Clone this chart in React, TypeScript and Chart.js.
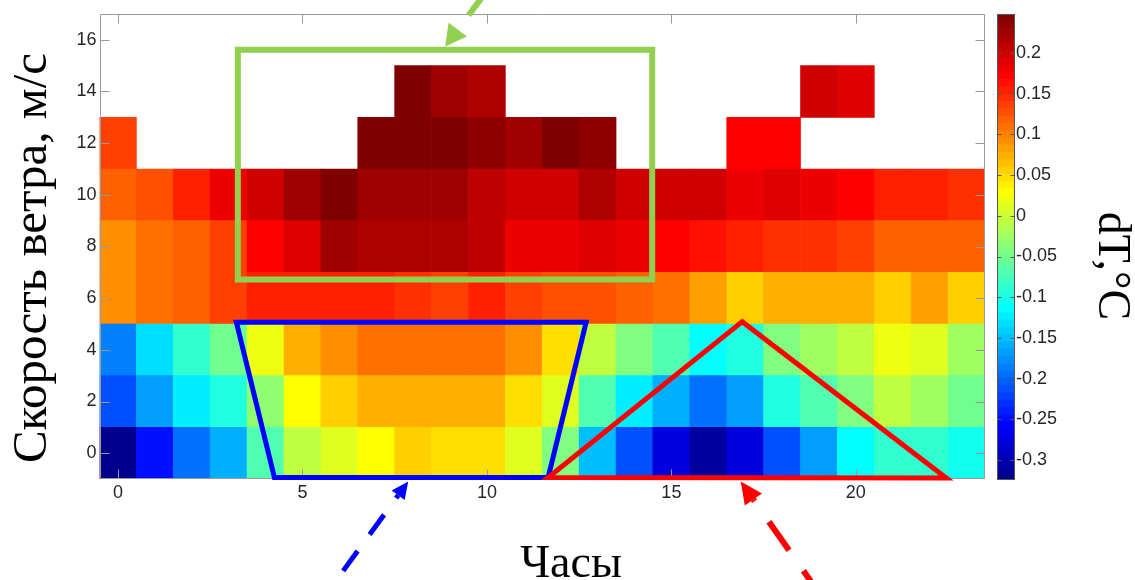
import React, { useEffect, useRef } from 'react';
import { Chart, registerables } from 'chart.js';

Chart.register(...registerables);

// ---------- data ----------
const hours = [0, 1, 2, 3, 4, 5, 6, 7, 8, 9, 10, 11, 12, 13, 14, 15, 16, 17, 18, 19, 20, 21, 22, 23];
const windSpeeds = [0, 2, 4, 6, 8, 10, 12, 14];

// dT (°C) per hour, one array per wind-speed bin (null = no data)
const dT_ws0 = [-0.319, -0.253, -0.196, -0.159, -0.067, -0.010, 0.007, 0.033, 0.053, 0.047, 0.045, 0.007, -0.039, -0.147, -0.216, -0.273, -0.314, -0.279, -0.210, -0.170, -0.113, -0.084, -0.084, -0.102];
const dT_ws2 = [-0.216, -0.165, -0.124, -0.096, -0.033, 0.033, 0.053, 0.076, 0.076, 0.076, 0.073, 0.047, 0.013, -0.067, -0.119, -0.159, -0.199, -0.170, -0.096, -0.067, -0.039, -0.010, -0.021, -0.056];
const dT_ws4 = [-0.182, -0.130, -0.084, -0.056, 0.019, 0.070, 0.088, 0.105, 0.110, 0.110, 0.105, 0.088, 0.045, -0.010, -0.039, -0.067, -0.110, -0.096, -0.039, -0.021, -0.010, 0.019, 0.007, -0.021];
const dT_ws6 = [0.093, 0.105, 0.122, 0.133, 0.156, 0.151, 0.156, 0.151, 0.145, 0.139, 0.151, 0.133, 0.128, 0.128, 0.122, 0.105, 0.082, 0.059, 0.070, 0.070, 0.076, 0.059, 0.082, 0.059];
const dT_ws8 = [0.093, 0.105, 0.122, 0.139, 0.176, 0.191, 0.225, 0.214, 0.219, 0.219, 0.208, 0.185, 0.185, 0.191, 0.185, 0.176, 0.162, 0.156, 0.145, 0.145, 0.139, 0.116, 0.122, 0.116];
const dT_ws10 = [0.122, 0.128, 0.151, 0.185, 0.202, 0.225, 0.248, 0.225, 0.225, 0.225, 0.208, 0.196, 0.202, 0.214, 0.202, 0.202, 0.202, 0.185, 0.191, 0.185, 0.168, 0.151, 0.151, 0.145];
const dT_ws12 = [0.133, null, null, null, null, null, null, 0.246, 0.246, 0.246, 0.231, 0.225, 0.242, 0.231, null, null, null, 0.176, 0.176, null, null, null, null, null];
const dT_ws14 = [null, null, null, null, null, null, null, null, 0.247, 0.227, 0.220, null, null, null, null, null, null, null, null, 0.195, 0.188, null, null, null];
const dTRows = [dT_ws0, dT_ws2, dT_ws4, dT_ws6, dT_ws8, dT_ws10, dT_ws12, dT_ws14];

const xTickValues = [0, 5, 10, 15, 20];
const yTickValues = [0, 2, 4, 6, 8, 10, 12, 14, 16];
const cbTickValues = [-0.3, -0.25, -0.2, -0.15, -0.1, -0.05, 0, 0.05, 0.1, 0.15, 0.2];
const colorMin = -0.3246;
const colorMax = 0.248;
const hourRange = [-0.5, 23.5];
const speedRange = [-1, 17];

// annotation shapes (in data units: hour, wind speed)
const greenRect = [[3.25, 15.62], [14.48, 15.62], [14.48, 6.72], [3.25, 6.72]];
const blueTrapezoid = [[3.21, 5.07], [12.69, 5.07], [11.66, -0.94], [4.24, -0.94]];
const redTriangle = [[16.92, 5.09], [22.45, -0.96], [11.66, -0.94]];
const arrowList = [
  { tail: [10.22, 18.32], tip: [8.87, 15.74], color: '#92D050', width: 6, headLen: 21, headW: 23, dash: 30, gap: 18, firstGap: 18 },
  { tail: [5.70, -5.35], tip: [7.867, -1.099], color: '#0000FF', width: 5, headLen: 17, headW: 16, dash: 24.5, gap: 20.5, firstGap: 24 },
  { tail: [18.97, -5.35], tip: [16.88, -1.099], color: '#FF0000', width: 6, headLen: 22, headW: 21, dash: 35, gap: 25, firstGap: 27 },
];

// ---------- MATLAB jet(64) ----------
function jetLevel(i: number): string {
  const R = i < 25 ? 0 : i <= 40 ? (i - 24) / 16 : i <= 56 ? 1 : (72 - i) / 16;
  const G = i < 9 ? 0 : i <= 24 ? (i - 8) / 16 : i <= 40 ? 1 : i <= 55 ? (56 - i) / 16 : 0;
  const B = i <= 8 ? (i + 8) / 16 : i <= 24 ? 1 : i <= 39 ? (40 - i) / 16 : 0;
  return `rgb(${Math.round(R * 255)},${Math.round(G * 255)},${Math.round(B * 255)})`;
}
function jetColor(v: number): string {
  let k = Math.floor(((v - colorMin) / (colorMax - colorMin)) * 64) + 1;
  k = Math.max(1, Math.min(64, k));
  return jetLevel(k);
}

const TICK_FONT = { family: '"Liberation Sans", Arial, sans-serif', size: 18 };
const TICK_COLOR = '#262626';
const FRAME_COLOR = '#9a9a9a';
const TITLE_FONT = '"Liberation Serif", "Times New Roman", serif';

const framePlugin = {
  id: 'frameTicks',
  afterDatasetsDraw(chart: any) {
    const { ctx, chartArea: a, scales } = chart;
    const x = scales.x, y = scales.y;
    ctx.save();
    ctx.strokeStyle = FRAME_COLOR;
    ctx.lineWidth = 1;
    ctx.beginPath();
    const L = Math.round(a.left) + 0.5, R = Math.round(a.right) - 0.5;
    const T = Math.round(a.top) + 0.5, B = Math.round(a.bottom) - 0.5;
    ctx.rect(L, T, R - L, B - T);
    xTickValues.forEach((v) => {
      const px = Math.round(x.getPixelForValue(v)) + 0.5;
      ctx.moveTo(px, B); ctx.lineTo(px, B - 9);
      ctx.moveTo(px, T); ctx.lineTo(px, T + 9);
    });
    yTickValues.forEach((v) => {
      const py = Math.round(y.getPixelForValue(v)) + 0.5;
      ctx.moveTo(L, py); ctx.lineTo(L + 9, py);
      ctx.moveTo(R, py); ctx.lineTo(R - 9, py);
    });
    ctx.stroke();
    ctx.restore();
  },
};

const titlesPlugin = {
  id: 'mainTitles',
  afterDraw(chart: any) {
    const { ctx } = chart;
    ctx.save();
    ctx.fillStyle = '#000';
    ctx.textAlign = 'center';
    ctx.textBaseline = 'alphabetic';
    ctx.font = `49px ${TITLE_FONT}`;
    ctx.translate(46, 258);
    ctx.rotate(-Math.PI / 2);
    ctx.fillText('Скорость ветра, м/с', 0, 0);
    ctx.restore();
    ctx.save();
    ctx.fillStyle = '#000';
    ctx.textAlign = 'center';
    ctx.textBaseline = 'alphabetic';
    ctx.font = `46px ${TITLE_FONT}`;
    ctx.fillText('Часы', 571, 577);
    ctx.restore();
  },
};

function toPx(chart: any, p: number[]) {
  return [chart.scales.x.getPixelForValue(p[0]), chart.scales.y.getPixelForValue(p[1])];
}

const annotationPlugin = {
  id: 'shapes',
  afterDraw(chart: any) {
    const { ctx } = chart;
    const poly = (pts: number[][], color: string, w: number) => {
      ctx.beginPath();
      pts.forEach((p, i) => {
        const [px, py] = toPx(chart, p);
        if (i === 0) ctx.moveTo(px, py); else ctx.lineTo(px, py);
      });
      ctx.closePath();
      ctx.strokeStyle = color;
      ctx.lineWidth = w;
      ctx.lineJoin = 'miter';
      ctx.stroke();
    };
    ctx.save();
    poly(greenRect, '#92D050', 6);
    poly(blueTrapezoid, '#0000FF', 5);
    poly(redTriangle, '#FF0000', 5);
    arrowList.forEach((a) => {
      const [tx, ty] = toPx(chart, a.tip);
      const [sx, sy] = toPx(chart, a.tail);
      const dx = tx - sx, dy = ty - sy;
      const len = Math.hypot(dx, dy);
      const ux = dx / len, uy = dy / len;
      const bx = tx - ux * a.headLen, by = ty - uy * a.headLen;
      ctx.strokeStyle = a.color;
      ctx.fillStyle = a.color;
      ctx.lineWidth = a.width;
      ctx.lineCap = 'butt';
      ctx.setLineDash([a.dash, a.gap]);
      ctx.lineDashOffset = a.dash + a.gap - a.firstGap;
      ctx.beginPath();
      ctx.moveTo(bx, by);
      ctx.lineTo(sx, sy);
      ctx.stroke();
      ctx.setLineDash([]);
      ctx.beginPath();
      ctx.moveTo(tx, ty);
      ctx.lineTo(bx - (uy * a.headW) / 2, by + (ux * a.headW) / 2);
      ctx.lineTo(bx + (uy * a.headW) / 2, by - (ux * a.headW) / 2);
      ctx.closePath();
      ctx.fill();
    });
    ctx.restore();
  },
};

const colorbarPlugin = {
  id: 'cbFrame',
  afterDraw(chart: any) {
    const { ctx, chartArea: a, scales } = chart;
    const y = scales.y;
    ctx.save();
    ctx.strokeStyle = '#555';
    ctx.lineWidth = 1;
    const L = Math.round(a.left) + 0.5, R = Math.round(a.right) - 0.5;
    const T = Math.round(a.top) + 0.5, B = Math.round(a.bottom) - 0.5;
    ctx.beginPath();
    ctx.rect(L, T, R - L, B - T);
    cbTickValues.forEach((v) => {
      const py = Math.round(y.getPixelForValue(v)) + 0.5;
      ctx.moveTo(L, py); ctx.lineTo(L + 4, py);
      ctx.moveTo(R, py); ctx.lineTo(R - 4, py);
    });
    ctx.stroke();
    ctx.restore();
    ctx.save();
    ctx.fillStyle = '#000';
    ctx.textAlign = 'center';
    ctx.textBaseline = 'alphabetic';
    ctx.font = `46px ${TITLE_FONT}`;
    ctx.translate(109, 266);
    ctx.rotate(Math.PI / 2);
    ctx.fillText('dT,°C', 0, 0);
    ctx.restore();
  },
};

export default function App() {
  const mainRef = useRef<HTMLCanvasElement>(null);
  const cbRef = useRef<HTMLCanvasElement>(null);

  useEffect(() => {
    const datasets = windSpeeds.map((ws, r) => ({
      label: `${ws} м/с`,
      data: hours
        .map((h, i) => (dTRows[r][i] == null ? null : { x: h, y: [ws - 1, ws + 1], v: dTRows[r][i] }))
        .filter((d) => d !== null) as any[],
      backgroundColor: (c: any) => (c.raw ? jetColor(c.raw.v) : 'transparent'),
      borderWidth: 0,
      barPercentage: 1,
      categoryPercentage: 1,
      grouped: false,
    }));

    const main = new Chart(mainRef.current!, {
      type: 'bar',
      data: { datasets },
      options: {
        responsive: false,
        animation: false,
        events: [],
        layout: { padding: { top: 14, right: 150, bottom: 0, left: 0 } },
        plugins: { legend: { display: false }, tooltip: { enabled: false }, title: { display: false } },
        scales: {
          x: {
            type: 'linear',
            min: hourRange[0],
            max: hourRange[1],
            offset: false,
            grid: { display: false, drawTicks: false },
            border: { display: false },
            ticks: { font: TICK_FONT, color: TICK_COLOR, padding: 3, maxRotation: 0, autoSkip: false },
            afterBuildTicks: (s: any) => { s.ticks = xTickValues.map((value) => ({ value })); },
            afterFit: (s: any) => { s.height = 101; },
          },
          y: {
            type: 'linear',
            min: speedRange[0],
            max: speedRange[1],
            grid: { display: false, drawTicks: false },
            border: { display: false },
            ticks: { font: TICK_FONT, color: TICK_COLOR, padding: 3, autoSkip: false },
            afterBuildTicks: (s: any) => { s.ticks = yTickValues.map((value) => ({ value })); },
            afterFit: (s: any) => { s.width = 99.5; },
          },
        },
      } as any,
      plugins: [framePlugin, titlesPlugin, annotationPlugin],
    });

    const step = (colorMax - colorMin) / 64;
    const cbDatasets = Array.from({ length: 64 }, (_, k) => ({
      data: [[colorMin + k * step, colorMin + (k + 1) * step]],
      backgroundColor: jetLevel(k + 1),
      borderWidth: 0,
      barPercentage: 1,
      categoryPercentage: 1,
      grouped: false,
    }));

    const cb = new Chart(cbRef.current!, {
      type: 'bar',
      data: { labels: ['dT'], datasets: cbDatasets as any },
      options: {
        responsive: false,
        animation: false,
        events: [],
        layout: { padding: { top: 14, right: 0, bottom: 100, left: 7 } },
        plugins: { legend: { display: false }, tooltip: { enabled: false } },
        scales: {
          x: { display: false },
          y: {
            type: 'linear',
            position: 'right',
            min: colorMin,
            max: colorMax,
            grid: { display: false, drawTicks: false },
            border: { display: false },
            ticks: {
              font: TICK_FONT,
              color: TICK_COLOR,
              padding: 1,
              autoSkip: false,
              callback: (v: any) => String(Number(Number(v).toFixed(2))),
            },
            afterBuildTicks: (s: any) => { s.ticks = cbTickValues.map((value) => ({ value })); },
            afterFit: (s: any) => { s.width = 120; },
          },
        },
      } as any,
      plugins: [colorbarPlugin],
    });

    return () => {
      main.destroy();
      cb.destroy();
    };
  }, []);

  return (
    <div style={{ position: 'fixed', left: 0, top: 0, width: 1135, height: 580, background: '#fff', overflow: 'hidden' }}>
      <canvas ref={mainRef} width={1135} height={580} style={{ position: 'absolute', left: 0, top: 0 }} />
      <canvas ref={cbRef} width={145} height={580} style={{ position: 'absolute', left: 990, top: 0 }} />
    </div>
  );
}
